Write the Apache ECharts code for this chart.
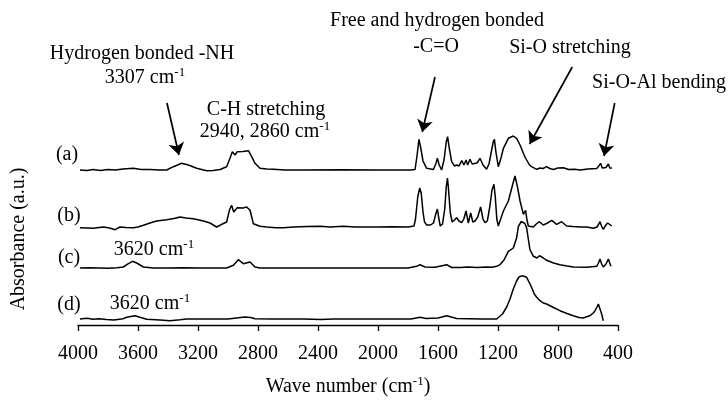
<!DOCTYPE html>
<html>
<head>
<meta charset="utf-8">
<script src="https://cdn.jsdelivr.net/npm/echarts@6/dist/echarts.min.js"></script>
<style>
    html, body { margin: 0; padding: 0; background: #fff; }
    #chart { width: 728px; height: 406px; }
</style>
</head>
<body>
<div id="chart"></div>
<script>
var SERIF = '"Liberation Serif", "DejaVu Serif", serif';

// x ticks (wave number, cm-1)
var xTicks = [4000, 3600, 3200, 2800, 2400, 2000, 1600, 1200, 800, 400];
var sampleNames = ['(a)', '(b)', '(c)', '(d)'];
// vertical offset of each trace (a.u.)
var offsets = [155, 98, 57, 6];

// [wave number, absorbance above own baseline]
var specA = [
    [3987, 0], [3940, -0.5], [3900, 0.5], [3850, -0.5], [3800, 0.5], [3750, 0], [3700, 1],
    [3631, 1.7], [3580, 0.5], [3520, 0.5], [3460, 0], [3409, 0], [3364, 3.3], [3309, 6.7],
    [3264, 5], [3209, 1.7], [3142, -0.7], [3100, -0.5], [3053, 0.5], [3009, 3.3], [2987, 11.7],
    [2971, 18.3], [2953, 15], [2938, 18.3], [2900, 18.5], [2864, 19.3], [2842, 13.3],
    [2820, 6.7], [2787, 1.7], [2740, 1], [2698, 0.7], [2620, 0], [2500, 0], [2250, 0.3],
    [2000, 0], [1850, 0], [1780, 0], [1753, 0.5], [1740, 14], [1727, 30.7], [1715, 22],
    [1700, 9], [1676, 1.7], [1631, 0.5], [1615, 6], [1604, 11.7], [1592, 5], [1576, 0],
    [1560, 10], [1545, 28], [1536, 33.3], [1525, 22], [1509, 8.3], [1490, 4], [1476, 5],
    [1460, 4], [1442, 9.3], [1427, 5], [1413, 10], [1402, 5], [1387, 10.7], [1372, 6],
    [1360, 5], [1340, 7], [1320, 11.7], [1300, 5], [1276, 0.7], [1260, 6], [1245, 18],
    [1232, 28], [1224, 30.7], [1214, 18], [1198, 3.3], [1180, 12], [1164, 21.7], [1131, 31.7],
    [1098, 34], [1076, 31.7], [1053, 25], [1031, 16.7], [1020, 13], [1009, 10], [990, 5],
    [976, 3.3], [942, 0.7], [920, 2], [900, 1.5], [876, 3.3], [855, 1.5], [831, 0.5],
    [800, 2], [764, 2.3], [730, 0.5], [690, 0.7], [653, 0], [600, 1], [542, 1.5], [528, 4],
    [516, 6.7], [505, 2], [494, 0], [480, 2.5], [464, 6], [455, 2], [447, 0], [440, 2]
];
var specB = [
    [3987, -0.7], [3940, -1], [3898, -1.3], [3860, -0.5], [3831, 0], [3790, -1], [3753, -2.7],
    [3720, 0], [3680, -0.5], [3631, -0.7], [3600, 0], [3564, 1.7], [3520, 4], [3476, 6],
    [3409, 7.3], [3360, 8.5], [3320, 10], [3280, 9], [3231, 8.3], [3164, 6], [3120, 4],
    [3076, 0], [3042, 2.7], [3009, 5], [2991, 16.7], [2976, 21.7], [2962, 15], [2953, 15.5],
    [2938, 19.3], [2900, 19], [2876, 20], [2853, 16.7], [2831, 3.3], [2787, 0.7], [2742, 0],
    [2680, -0.7], [2631, -0.7], [2560, 0], [2470, 0.5], [2387, 0.7], [2320, 0], [2231, 0.7],
    [2150, 0], [2000, 0], [1900, 0.3], [1800, 0], [1760, 1], [1750, 8], [1735, 30], [1722, 39],
    [1712, 34], [1700, 15], [1690, 5], [1675, 2], [1650, 2], [1630, 4], [1615, 13], [1604, 18],
    [1596, 10], [1585, 1], [1570, 3], [1555, 18], [1545, 40], [1537, 49], [1530, 38],
    [1518, 14], [1505, 5], [1490, 7], [1476, 9.3], [1460, 6], [1442, 4.3], [1428, 8],
    [1413, 16], [1398, 4], [1382, 14], [1368, 5], [1353, 6], [1335, 10], [1316, 20],
    [1300, 8], [1287, 4.3], [1271, 6], [1255, 20], [1240, 37], [1227, 42.7], [1218, 30],
    [1208, 8], [1198, 1], [1180, 9], [1164, 16], [1131, 26], [1110, 38], [1087, 51],
    [1070, 40], [1053, 26], [1031, 12.7], [1016, 16.7], [1008, 8], [998, 1], [964, 0],
    [945, 3], [924, 5.3], [898, 2], [870, 4], [842, 6.7], [809, 2.7], [776, 5.3], [742, 1],
    [700, 0.5], [650, 0], [609, 0], [564, -1.3], [540, 0], [528, 3], [520, 5.3], [510, 1],
    [498, -2.3], [485, 1], [470, 4], [458, 5.3], [450, 2], [442, 1]
];
var specC = [
    [3987, 0], [3920, 0.3], [3860, 0], [3800, -0.3], [3740, 0.3], [3698, 1], [3664, 4.3],
    [3636, 6.7], [3609, 5], [3564, 1], [3498, 0], [3400, 0], [3300, 0.3], [3187, 0],
    [3100, 0], [3009, 0], [2964, 2.7], [2931, 8.3], [2898, 4.3], [2853, 6], [2820, 1],
    [2787, 0], [2600, 0], [2400, 0], [2200, 0], [2000, 0], [1800, 0], [1742, 1.7], [1720, 3.3],
    [1687, 1], [1620, 0.7], [1542, 3.3], [1509, 0.5], [1450, 0.5], [1400, 1], [1340, 0.5],
    [1280, 1], [1240, 0.7], [1209, 1.7], [1187, 3.3], [1160, 8], [1131, 16.7], [1098, 20],
    [1076, 30], [1064, 41.7], [1045, 46.5], [1020, 44.3], [1009, 40], [987, 18.3], [964, 11.7],
    [940, 10], [924, 12.3], [898, 10], [876, 7.7], [830, 5], [787, 3.3], [740, 2], [698, 1],
    [609, 0.7], [542, 1.7], [530, 5], [520, 9], [509, 4], [498, 1], [480, 4], [464, 9],
    [455, 5], [447, 1.7]
];
var specD = [
    [3987, 0], [3940, 0.7], [3900, -0.3], [3860, 0.3], [3810, -0.5], [3760, -1], [3700, 0.3],
    [3676, 1.7], [3620, 3.3], [3587, 1.7], [3542, -0.3], [3453, -1], [3387, -1.7],
    [3320, -0.7], [3276, 0], [3150, 0], [3000, 0], [2887, 2], [2850, 1.5], [2820, 0.3],
    [2700, 0], [2500, 0], [2380, -0.5], [2300, 0], [2100, 0], [1900, 0], [1780, 0],
    [1720, 1.7], [1680, 0.5], [1600, 1], [1542, 3.3], [1476, 0.5], [1400, 0.3], [1300, 0],
    [1209, 0], [1198, 0.7], [1170, 5], [1142, 12], [1120, 20], [1098, 30], [1076, 38],
    [1060, 42], [1045, 43], [1031, 43], [1009, 41.7], [990, 36], [976, 31.7], [958, 25],
    [942, 21.7], [920, 18.3], [898, 16], [876, 15], [830, 11.5], [787, 8.3], [740, 5.5],
    [698, 3.3], [660, 1.5], [631, 1], [609, 2.3], [587, 3.3], [565, 6], [553, 8.3],
    [540, 12], [531, 15], [520, 13], [509, 5], [498, -1.7]
];
var spectra = [specA, specB, specC, specD];

// annotation arrows: [start wn, start y, tip wn, tip y]
var arrows = [
    [3407, 222, 3327, 170],
    [1620, 248, 1705, 193],
    [705, 258, 989, 181],
    [422, 222, 493, 169]
];

var supRich = {fontSize: 13, fontFamily: SERIF, fill: '#000', color: '#000',
    verticalAlign: 'top', padding: [0, 0, 11, 0]};

function supText(base, sup, x, y) {
    return {
        type: 'text', x: x, y: y, silent: true,
        style: {
            text: base + '{sup|' + sup + '}',
            fontSize: 20, fontFamily: SERIF, fill: '#000',
            align: 'center', verticalAlign: 'middle',
            rich: {sup: supRich}
        }
    };
}

function plainText(text, x, y, rot) {
    return {
        type: 'text', x: x, y: y, rotation: rot || 0, silent: true,
        style: {
            text: text, fontSize: 20, fontFamily: SERIF, fill: '#000',
            align: 'center', verticalAlign: 'middle'
        }
    };
}

var series = spectra.map(function (spec, i) {
    var s = {
        name: sampleNames[i],
        type: 'line',
        symbol: 'none',
        clip: false,
        lineStyle: {color: '#000', width: 1.5},
        data: spec.map(function (p) { return [p[0], p[1] + offsets[i]]; })
    };
    if (i === 0) {
        s.markLine = {
            silent: true,
            symbol: ['none', 'arrow'],
            symbolSize: 12,
            label: {show: false},
            lineStyle: {color: '#000', width: 1.7, type: 'solid'},
            data: arrows.map(function (a) {
                return [{coord: [a[0], a[1]]}, {coord: [a[2], a[3]]}];
            })
        };
    }
    return s;
});

var option = {
    animation: false,
    backgroundColor: '#fff',
    grid: {left: 78, right: 110, top: 25, bottom: 81},
    xAxis: {
        type: 'value',
        inverse: true,
        min: xTicks[xTicks.length - 1],
        max: xTicks[0],
        interval: 400,
        name: 'Wave number (cm{sup|-1})',
        nameLocation: 'middle',
        nameGap: 50,
        nameTextStyle: {
            fontSize: 20, fontFamily: SERIF, color: '#000',
            rich: {sup: supRich}
        },
        axisLine: {lineStyle: {color: '#000', width: 1.3}},
        axisTick: {length: 6, lineStyle: {color: '#000', width: 1.3}},
        axisLabel: {
            margin: 19, fontSize: 20, fontFamily: SERIF, color: '#000',
            formatter: function (v) { return String(v); }
        },
        splitLine: {show: false}
    },
    yAxis: {
        type: 'value', min: 0, max: 300, show: false
    },
    graphic: [
        plainText('Absorbance (a.u.)', 19, 239, Math.PI / 2),
        plainText('Hydrogen bonded -NH', 142, 54),
        supText('3307 cm', '-1', 145, 78),
        plainText('C-H stretching', 266, 110),
        supText('2940, 2860 cm', '-1', 265, 132),
        plainText('Free and hydrogen bonded', 437, 21),
        plainText('-C=O', 436, 47),
        plainText('Si-O stretching', 570, 48),
        plainText('Si-O-Al bending', 659, 83),
        plainText(sampleNames[0], 67, 155),
        plainText(sampleNames[1], 69, 216),
        plainText(sampleNames[2], 69, 258),
        supText('3620 cm', '-1', 154, 250),
        plainText(sampleNames[3], 69, 305),
        supText('3620 cm', '-1', 150, 304)
    ],
    series: series
};

var myChart = echarts.init(document.getElementById('chart'));
myChart.setOption(option);
</script>
</body>
</html>
